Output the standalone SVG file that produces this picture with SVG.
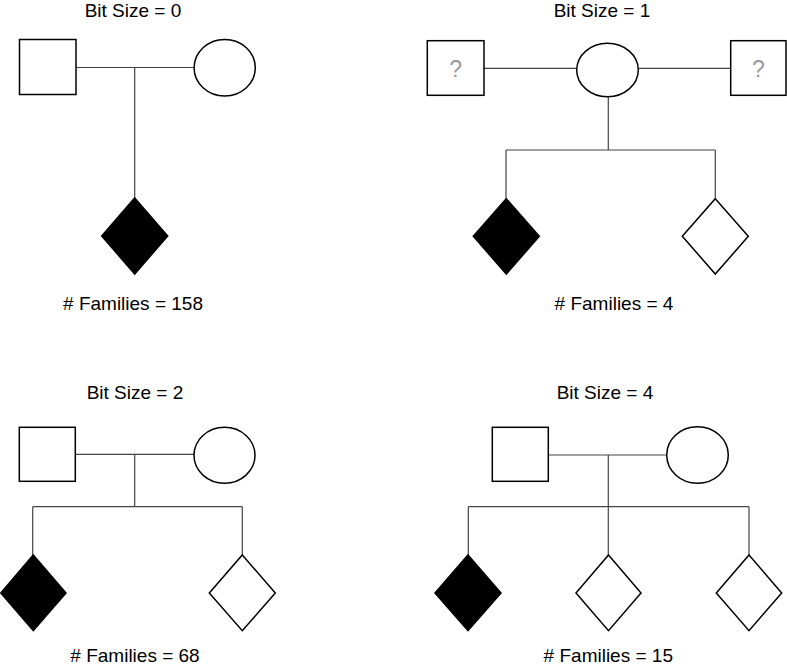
<svg xmlns="http://www.w3.org/2000/svg" width="787" height="665" viewBox="0 0 787 665">
<style>
text{font-family:"Liberation Sans",Arial,sans-serif;font-size:19px;fill:#000;text-anchor:middle}
.q{fill:#999;font-size:23px}
.sh{fill:#fff;stroke:#000;stroke-width:1.5}
.aff{fill:#000;stroke:#000;stroke-width:1.5}
.ln{fill:none;stroke:#444;stroke-width:1.2}
</style>
<rect width="787" height="665" fill="#fff"/>
<g id="connectors">
<path class="ln" d="M76 67.5H194M134.7 67.5V198"/>
<path class="ln" d="M484 68.3H576.7M638.3 68.3H730.7M608.3 96.7V150M506 150H715.3M506 150V198.7M715.3 150V198.7"/>
<path class="ln" d="M75.3 454.3H194M134.7 454.3V506.7M32.7 506.7H242.3M32.7 506.7V555M242.3 506.7V555"/>
<path class="ln" d="M548.3 455H666.7M608.3 455V555M468.3 506.7H749M468.3 506.7V555M749 506.7V555"/>
</g>
<g id="panel0">
<text x="133" y="17">Bit Size = 0</text>
<g id="p0-father"><rect class="sh" x="19.5" y="39.5" width="56.5" height="55"/></g>
<g id="p0-mother"><ellipse class="sh" cx="224.7" cy="67.7" rx="30.6" ry="28.3"/></g>
<g id="p0-child"><path class="aff" d="M134.7 198L167.7 236L134.7 274L101.7 236Z"/></g>
<text x="133" y="310">#  Families = 158</text>
</g>
<g id="panel1">
<text x="602" y="17">Bit Size = 1</text>
<g id="p1-father1"><rect class="sh" x="427.3" y="40.7" width="56.7" height="54.6"/><text class="q" x="455.7" y="76.5">?</text></g>
<g id="p1-mother"><ellipse class="sh" cx="607.5" cy="70" rx="30.8" ry="26.7"/></g>
<g id="p1-father2"><rect class="sh" x="730.7" y="40.7" width="55.3" height="54.6"/><text class="q" x="758.3" y="76.5">?</text></g>
<g id="p1-child1"><path class="aff" d="M506.3 198.7L539.3 236.3L506.3 274L473.3 236.3Z"/></g>
<g id="p1-child2"><path class="sh" d="M715.3 198.7L748.3 236.3L715.3 274L682.3 236.3Z"/></g>
<text x="614" y="310">#  Families = 4</text>
</g>
<g id="panel2">
<text x="135" y="399.3">Bit Size = 2</text>
<g id="p2-father"><rect class="sh" x="19.3" y="427.3" width="56" height="54"/></g>
<g id="p2-mother"><ellipse class="sh" cx="224.5" cy="455.3" rx="30.5" ry="28"/></g>
<g id="p2-child1"><path class="aff" d="M33.3 555L66 593L33.3 630.7L0.8 593Z"/></g>
<g id="p2-child2"><path class="sh" d="M242.3 555L275.3 593L242.3 630.7L209.3 593Z"/></g>
<text x="135" y="661.5">#  Families = 68</text>
</g>
<g id="panel3">
<text x="605" y="399.3">Bit Size = 4</text>
<g id="p3-father"><rect class="sh" x="492.3" y="427.3" width="56" height="54"/></g>
<g id="p3-mother"><ellipse class="sh" cx="697.5" cy="455" rx="30.8" ry="28.3"/></g>
<g id="p3-child1"><path class="aff" d="M468 555L501 593L468 630.7L435 593Z"/></g>
<g id="p3-child2"><path class="sh" d="M608.5 555L641 593L608.5 630.7L576 593Z"/></g>
<g id="p3-child3"><path class="sh" d="M749 555L781.7 593L749 630.7L716.3 593Z"/></g>
<text x="608.3" y="661.5">#  Families = 15</text>
</g>
</svg>
